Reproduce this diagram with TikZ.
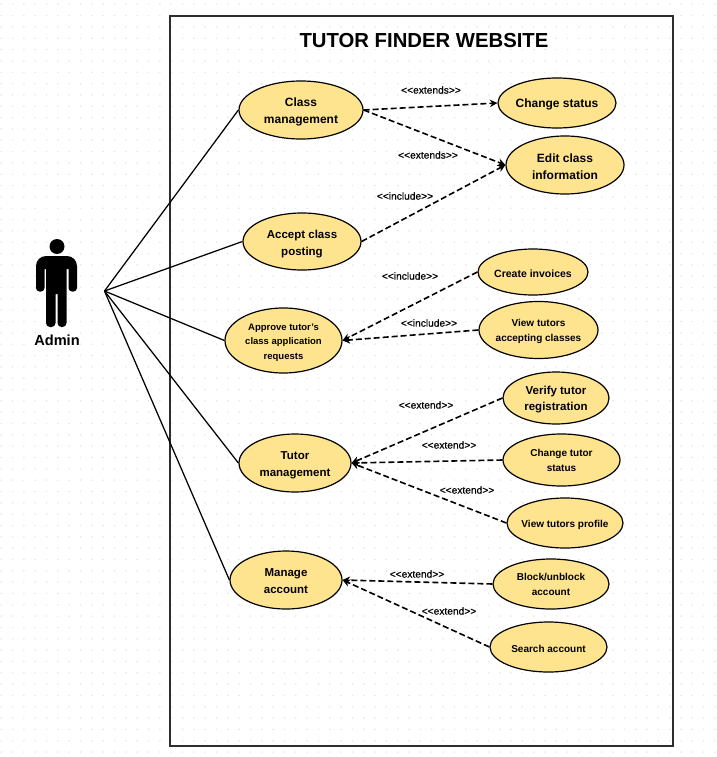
\documentclass[tikz,border=0pt]{standalone}
\usepackage{fontspec}
\setmainfont{Liberation Sans}
\newfontfamily\tagfont[FakeBold=0.6]{Liberation Sans}
\usepackage{xcolor}
\definecolor{casefill}{HTML}{FFE48F}
\usetikzlibrary{shapes.geometric, arrows.meta}
\tikzset{
  usecase/.style={ellipse, draw=black, fill=casefill, line width=1.2pt, inner sep=-12pt, align=center, font=\bfseries\fontsize{12}{17}\selectfont},
  smallcase/.style={usecase, font=\bfseries\fontsize{10}{15}\selectfont},
  lift/.style={execute at begin node=\rule{0pt}{#1pt}},
  tag/.style={inner sep=0pt, font=\tagfont\fontsize{10.2}{12}\selectfont},
  assoc/.style={line width=1.25pt},
  dep/.style={-{Stealth[length=7.5pt, width=7.5pt]}, line width=1.6pt, dash pattern=on 6pt off 3pt},
  actorpart/.style={fill=black, draw=none}
}
\begin{document}
\begin{tikzpicture}[x=1pt, y=-1pt]
    \useasboundingbox (0, 0) rectangle (716, 757);
    % dotted page
    \foreach \i in {0,...,63} {
        \foreach \j in {0,...,66} {
            \fill[black!9] (1.2 + 11.33*\i, 4.3 + 11.33*\j) circle (0.95pt);
        }
    }
    \node[draw=black!82, line width=1.5pt, fill=none, minimum width=503pt, minimum height=730pt, inner sep=0pt] (frame) at (421.5, 381) {};
    \node[font=\bfseries\fontsize{20.3}{24}\selectfont] (title) at (424, 41) {TUTOR FINDER WEBSITE};

    % actor
    \fill[actorpart] (57, 246.5) circle (7.5);
    \fill[actorpart] (36, 280) [rounded corners=10pt] -- (36, 256) -- (77, 256) [rounded corners=3.5pt] -- (77, 291.5) -- (68.5, 291.5) [sharp corners] -- (68.5, 269) -- (66.5, 269) [rounded corners=4pt] -- (66.5, 327) -- (57.5, 327) [sharp corners] -- (57.5, 294) -- (55.5, 294) [rounded corners=4pt] -- (55.5, 327) -- (46, 327) [sharp corners] -- (46, 269) -- (44.5, 269) [rounded corners=3.5pt] -- (44.5, 291.5) -- (36, 291.5) [sharp corners] -- cycle;
    \node[font=\bfseries\fontsize{14.6}{16}\selectfont] (adminlabel) at (57, 340) {Admin};
    \coordinate (admin) at (104.5, 291);

    % left column
    \node[usecase, lift=29, minimum width=124pt, minimum height=58pt] (classm) at (301, 110) {Class\\management};
    \node[usecase, lift=31.3, minimum width=118pt, minimum height=57pt, font=\bfseries\fontsize{11.5}{17}\selectfont] (accept) at (302, 241.5) {Accept class\\posting};
    \node[smallcase, lift=39.9, minimum width=117pt, minimum height=65pt, font=\bfseries\fontsize{9.5}{14.5}\selectfont] (approve) at (283.5, 340.5) {Approve tutor's\\class application\\requests};
    \node[usecase, lift=29.3, minimum width=112pt, minimum height=58pt, font=\bfseries\fontsize{11.5}{17}\selectfont] (tutorm) at (295, 463) {Tutor\\management};
    \node[usecase, lift=27.3, minimum width=112pt, minimum height=58pt, font=\bfseries\fontsize{11.5}{17}\selectfont] (manage) at (286, 580) {Manage\\account};

    % right column
    \node[usecase, lift=12.5, minimum width=118pt, minimum height=50pt] (status) at (557, 103) {Change status};
    \node[usecase, lift=28.7, minimum width=118pt, minimum height=58pt] (edit) at (565, 165) {Edit class\\information};
    \node[smallcase, lift=11.5, minimum width=110pt, minimum height=46pt, font=\bfseries\fontsize{10.5}{15}\selectfont] (invoices) at (533, 272) {Create invoices};
    \node[smallcase, lift=24.2, minimum width=119pt, minimum height=57pt] (viewacc) at (538.5, 330) {View tutors\\accepting classes};
    \node[usecase, lift=28.3, minimum width=106pt, minimum height=52pt, font=\bfseries\fontsize{11.5}{16}\selectfont] (verify) at (556, 398) {Verify tutor\\registration};
    \node[smallcase, minimum width=117pt, minimum height=52pt] (tstatus) at (561.5, 460) {Change tutor\\status};
    \node[smallcase, lift=11, minimum width=116pt, minimum height=50pt] (profile) at (565, 523) {View tutors profile};
    \node[smallcase, minimum width=116pt, minimum height=50pt] (block) at (551, 584) {Block/unblock\\account};
    \node[smallcase, lift=11, minimum width=117pt, minimum height=50pt] (search) at (548.5, 647) {Search account};

    % admin links
    \draw[assoc] (admin) -- (classm.west);
    \draw[assoc] (admin) -- (accept.west);
    \draw[assoc] (admin) -- (approve.west);
    \draw[assoc] (admin) -- (tutorm.west);
    \draw[assoc] (admin) -- (manage.west);

    % dependencies
    \draw[dep] (classm.east) -- (status.west);
    \draw[dep] (classm.east) -- (edit.west);
    \draw[dep] (accept.east) -- (edit.west);
    \draw[dep] (invoices.west) -- (approve.east);
    \draw[dep] (viewacc.west) -- (approve.east);
    \draw[dep] (verify.west) -- (tutorm.east);
    \draw[dep] (tstatus.west) -- (tutorm.east);
    \draw[dep] (profile.west) -- (tutorm.east);
    \draw[dep] (block.west) -- (manage.east);
    \draw[dep] (search.west) -- (manage.east);

    % stereotypes
    \node[tag] (t1) at (431, 90) {<{}<extends>{}>};
    \node[tag] (t2) at (428, 155) {<{}<extends>{}>};
    \node[tag] (t3) at (405, 196) {<{}<include>{}>};
    \node[tag] (t4) at (410, 276) {<{}<include>{}>};
    \node[tag] (t5) at (429, 323) {<{}<include>{}>};
    \node[tag] (t6) at (426, 405) {<{}<extend>{}>};
    \node[tag] (t7) at (449, 445) {<{}<extend>{}>};
    \node[tag] (t8) at (467, 490) {<{}<extend>{}>};
    \node[tag] (t9) at (417, 574) {<{}<extend>{}>};
    \node[tag] (t10) at (449, 611) {<{}<extend>{}>};
\end{tikzpicture}
\end{document}
